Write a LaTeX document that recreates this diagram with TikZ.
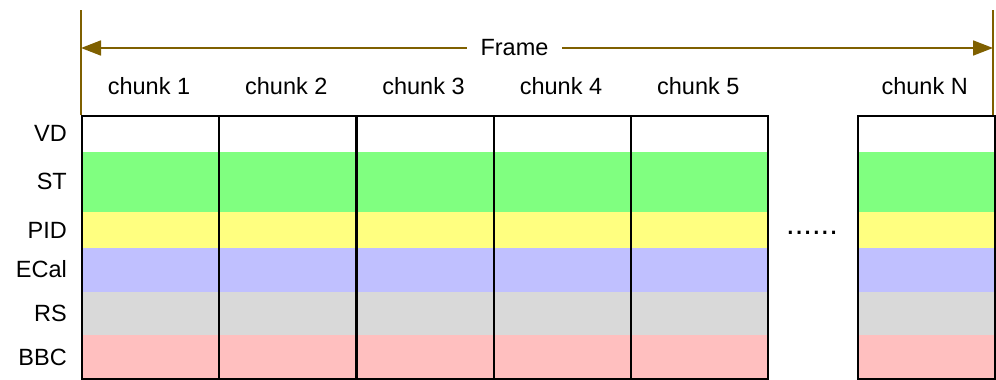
\documentclass[tikz,border=0pt]{standalone}
\usepackage{fontspec}
\setmainfont{Liberation Sans}
\usetikzlibrary{arrows.meta}
\definecolor{framebrown}{HTML}{7F6000}
\definecolor{bandST}{HTML}{80FF80}
\definecolor{bandPID}{HTML}{FFFF80}
\definecolor{bandECal}{HTML}{C0C0FF}
\definecolor{bandRS}{HTML}{D9D9D9}
\definecolor{bandBBC}{HTML}{FFBFBF}
\tikzset{
  txt/.style={font=\fontsize{23.5}{27}\selectfont, inner sep=0pt},
  rowlabel/.style={txt, anchor=east},
  chunkbox/.style={draw=black, line width=2pt, minimum width=137pt,
    minimum height=262.7pt, inner sep=0pt, anchor=north west},
  frameline/.style={draw=framebrown, line width=2pt},
  framearrow/.style={draw=framebrown, line width=1.8pt,
    -{Triangle[length=20pt,width=15pt]}}
}
\begin{document}
\begin{tikzpicture}[x=1pt,y=-1pt]
\useasboundingbox (0,0) rectangle (996,380);

% detector bands and box outline of each chunk
\foreach \x/\nm in {81/c1,218.3/c2,355.5/c3,493/c4,630.3/c5,856.7/cN}{
  \fill[bandST]   (\x,151.7) rectangle ++(137,60.6);
  \fill[bandPID]  (\x,212.3) rectangle ++(137,35.4);
  \fill[bandECal] (\x,247.7) rectangle ++(137,44);
  \fill[bandRS]   (\x,291.7) rectangle ++(137,43.3);
  \fill[bandBBC]  (\x,335)   rectangle ++(137,42.7);
  \node[chunkbox] (\nm) at (\x,115) {};
}

% chunk titles
\foreach \nm/\t in {c1/chunk 1,c2/chunk 2,c3/chunk 3,c4/chunk 4,c5/chunk 5,cN/chunk N}{
  \node[txt] at ([xshift=-1.5pt,yshift=28.5pt]\nm.north) {\t};
}

% detector names
\node[rowlabel] (lVD)   at (67,133) {VD};
\node[rowlabel] (lST)   at (67,181) {ST};
\node[rowlabel] (lPID)  at (67,230) {PID};
\node[rowlabel] (lECal) at (67,269.5) {ECal};
\node[rowlabel] (lRS)   at (67,313.5) {RS};
\node[rowlabel] (lBBC)  at (67,357) {BBC};

% gap between chunk 5 and chunk N
\node[font=\fontsize{31}{34}\selectfont, inner sep=0pt] (dots) at (812,233) {......};

% frame extent
\coordinate (fLt) at (81,10);
\coordinate (fLb) at (81,115);
\coordinate (fRt) at (993,10);
\coordinate (fRb) at (993,115);
\path[frameline] (fLt) -- (fLb);
\path[frameline] (fRt) -- (fRb);
\coordinate (aL) at (81,48);
\coordinate (aR) at (993,48);
\node[txt] (frame) at (514.5,48) {Frame};
\coordinate (gL) at (466.7,48);
\coordinate (gR) at (562.3,48);
\path[framearrow] (gL) -- (aL);
\path[framearrow] (gR) -- (aR);
\end{tikzpicture}
\end{document}
